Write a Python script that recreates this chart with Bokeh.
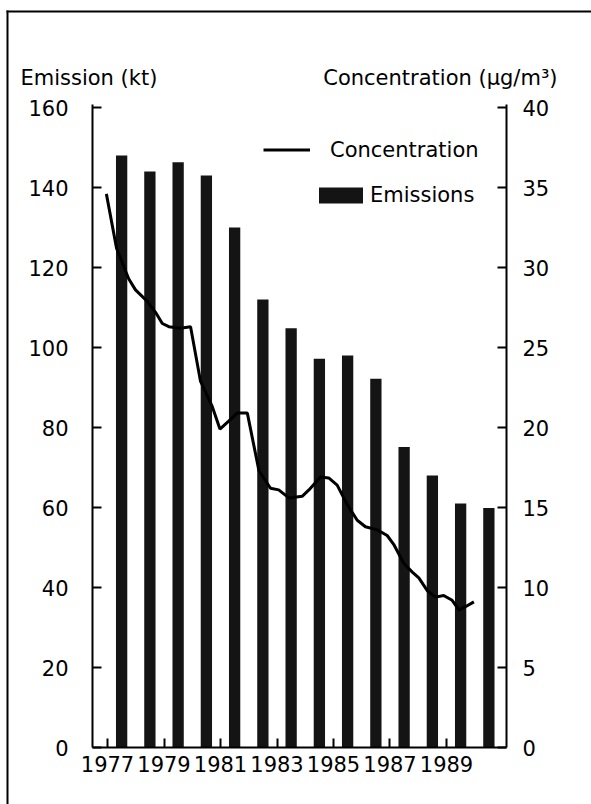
from bokeh.plotting import figure
from bokeh.models import (Range1d, LinearAxis, FixedTicker, Legend, LegendItem,
                          Label, BoxAnnotation, ColumnDataSource)
from bokeh.embed import file_html
from bokeh.resources import INLINE

# ---------------- data ----------------
years = [1977, 1978, 1979, 1980, 1981, 1982, 1983, 1984, 1985, 1986, 1987, 1988, 1989, 1990]
emissions = [148.0, 144.0, 146.3, 143.0, 130.0, 112.0, 104.8, 97.2, 98.0, 92.2, 75.1, 68.0, 61.0, 59.9]

conc_time = [1976.96, 1977.32, 1977.75, 1977.99, 1978.40, 1978.70, 1978.94, 1979.17, 1979.58,
             1979.94, 1980.29, 1980.71, 1980.98, 1981.29, 1981.59, 1981.95, 1982.36, 1982.77,
             1983.06, 1983.42, 1983.89, 1984.13, 1984.54, 1984.83, 1985.13, 1985.48, 1985.84,
             1986.13, 1986.55, 1986.90, 1987.13, 1987.49, 1987.79, 1988.02, 1988.32, 1988.61,
             1988.90, 1989.20, 1989.44, 1989.67, 1989.97]
conc_values = [34.6, 31.2, 29.3, 28.6, 27.9, 27.2, 26.5, 26.3, 26.2,
               26.3, 22.9, 21.3, 19.9, 20.4, 20.9, 20.9, 17.3, 16.2,
               16.1, 15.6, 15.7, 16.1, 16.9, 16.85, 16.4, 15.2, 14.2,
               13.8, 13.6, 13.25, 12.7, 11.5, 10.96, 10.6, 9.8, 9.4,
               9.5, 9.2, 8.6, 8.8, 9.1]

left_ticks = [0, 20, 40, 60, 80, 100, 120, 140, 160]
right_ticks = [0, 5, 10, 15, 20, 25, 30, 35, 40]
x_ticks = [1977, 1979, 1981, 1983, 1985, 1987, 1989]

left_title = "Emission (kt)"
right_title = "Concentration (\u00b5g/m\u00b3)"
line_label = "Concentration"
bar_label = "Emissions"

FONT = "DejaVu Sans"
FS = "21px"

# axis extents (data units)
X_LO, X_HI = 1976.469, 1991.124
E_MAX = 160.75
C_MAX = 40.1875

# ---------------- figure ----------------
# the frame covers the whole canvas; axes are pinned with fixed_location
p = figure(width=591, height=804, output_backend="svg", toolbar_location=None,
           x_range=Range1d(1973.212, 1994.133), y_range=Range1d(-14.25, 186.75),
           min_border=0, min_border_left=0, min_border_right=0,
           min_border_top=0, min_border_bottom=0,
           background_fill_color="white", border_fill_color="white")
p.title.visible = False
p.outline_line_color = None
p.xgrid.visible = False
p.ygrid.visible = False
p.extra_y_ranges = {"conc": Range1d(-14.25 / 4.0, 186.75 / 4.0)}

right_axis = LinearAxis(y_range_name="conc")
p.add_layout(right_axis, "right")


def style_axis(ax, ticks, standoff, loc, bounds):
    ax.fixed_location = loc
    ax.bounds = bounds
    ax.ticker = FixedTicker(ticks=ticks)
    ax.minor_tick_line_color = None
    ax.major_tick_in = 9
    ax.major_tick_out = 0
    ax.major_tick_line_width = 2
    ax.major_tick_line_color = "black"
    ax.axis_line_width = 2
    ax.axis_line_color = "black"
    ax.major_label_text_font = FONT
    ax.major_label_text_font_size = FS
    ax.major_label_text_color = "black"
    ax.major_label_standoff = standoff


style_axis(p.yaxis[0], left_ticks, 24, X_LO, (0, E_MAX))
style_axis(right_axis, right_ticks, 16, X_HI, (0, C_MAX))
style_axis(p.xaxis[0], x_ticks, 8, 0, (X_LO, X_HI))
p.xaxis[0].formatter.use_scientific = False

# ---------------- glyphs ----------------
bar_src = ColumnDataSource(dict(x=[y + 0.5 for y in years], top=emissions))
bars = p.vbar(x="x", top="top", bottom=0, width=0.4, source=bar_src,
              fill_color="#141414", line_color=None)

line_src = ColumnDataSource(dict(t=conc_time, c=conc_values))
conc_line = p.line(x="t", y="c", source=line_src, y_range_name="conc",
                   line_color="black", line_width=3)

# ---------------- legends ----------------
def make_legend(item_label, renderer, loc, gw, gh, standoff):
    return Legend(items=[LegendItem(label=item_label, renderers=[renderer])],
                  location=loc, orientation="vertical",
                  border_line_color=None, background_fill_alpha=0,
                  padding=0, margin=0, spacing=0,
                  glyph_width=gw, glyph_height=gh, label_standoff=standoff,
                  label_height=25,
                  label_text_font=FONT, label_text_font_size=FS, label_text_color="black")


p.add_layout(make_legend(line_label, conc_line, (263, 642), 47, 25, 20))
p.add_layout(make_legend(bar_label, bars, (313, 597), 55, 20, 2))

# ---------------- titles ----------------
p.add_layout(Label(x=20, y=727, x_units="screen", y_units="screen", text=left_title,
                   text_font=FONT, text_font_size=FS, text_color="black",
                   text_align="left", text_baseline="alphabetic"))
p.add_layout(Label(x=557, y=727, x_units="screen", y_units="screen", text=right_title,
                   text_font=FONT, text_font_size=FS, text_color="black",
                   text_align="right", text_baseline="alphabetic"))

# ---------------- outer frame (left and top edges only) ----------------
def edge(left, right, top, bottom):
    return BoxAnnotation(left=left, right=right, top=top, bottom=bottom,
                         left_units="screen", right_units="screen",
                         top_units="screen", bottom_units="screen",
                         fill_color="black", fill_alpha=1, line_color=None)


p.add_layout(edge(6, 8, 794, -100))     # left edge
p.add_layout(edge(6, 700, 794, 792))    # top edge

open("out.html", "w").write(file_html(p, INLINE))
